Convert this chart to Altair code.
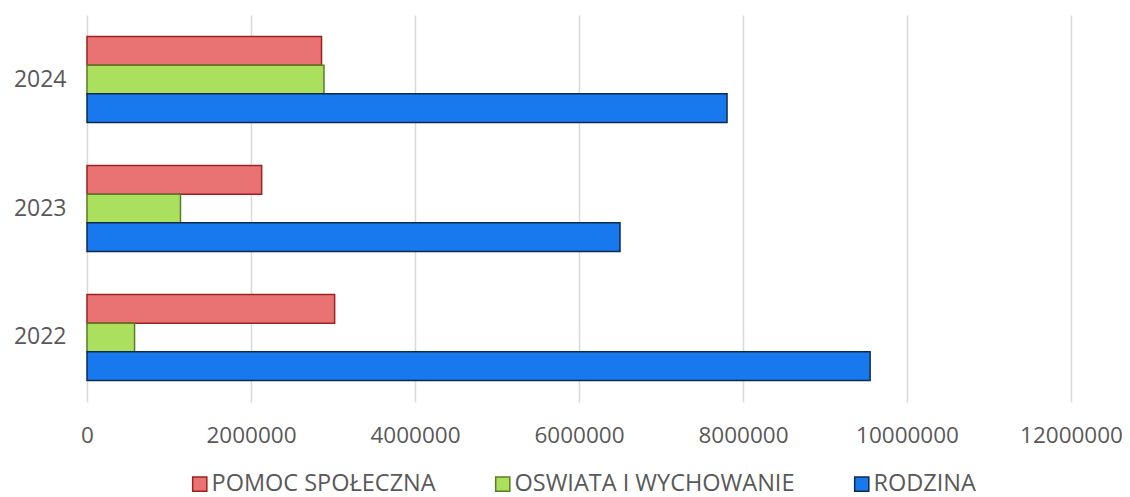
import altair as alt
import pandas as pd

years = ["2024", "2023", "2022"]
series = ["POMOC SPOŁECZNA", "OSWIATA I WYCHOWANIE", "RODZINA"]
pomoc = [2860000, 2130000, 3020000]
oswiata = [2890000, 1140000, 580000]
rodzina = [7805000, 6500000, 9550000]
x_ticks = [0, 2000000, 4000000, 6000000, 8000000, 10000000, 12000000]

fills = ["#E87372", "#ABE05E", "#1879EE"]
strokes = ["#9E2020", "#5A7D24", "#0E2A4D"]

rows = []
for i, y in enumerate(years):
    for s, vals in zip(series, [pomoc, oswiata, rodzina]):
        rows.append({"year": y, "series": s, "value": vals[i]})
df = pd.DataFrame(rows)

FONT = "Open Sans"
TXT = "#595959"

leg = dict(title=None, orient="none", direction="horizontal",
           legendX=101, legendY=457, symbolType="square",
           symbolSize=200, symbolStrokeWidth=1.5, labelLimit=0,
           labelFontSize=23.5, labelColor=TXT, labelFont=FONT,
           columnPadding=55, labelOffset=0)

chart = alt.Chart(df).mark_bar(strokeWidth=1.5).encode(
    y=alt.Y("year:N", sort=years, title=None,
            scale=alt.Scale(paddingInner=0.333, paddingOuter=0.1667),
            axis=alt.Axis(ticks=False, domain=False, labelPadding=21,
                          labelFontSize=23, labelColor=TXT, labelFont=FONT)),
    yOffset=alt.YOffset("series:N", sort=series,
                        scale=alt.Scale(paddingInner=0, paddingOuter=0)),
    x=alt.X("value:Q", title=None,
            scale=alt.Scale(domain=[0, 12000000], nice=False),
            axis=alt.Axis(values=x_ticks, format="d", ticks=False, domain=False,
                          grid=True, gridColor="#D9D9D9", gridWidth=1.5,
                          labelPadding=22, labelFontSize=22.5, labelColor=TXT,
                          labelFont=FONT, labelFlush=False)),
    fill=alt.Fill("series:N", sort=series,
                  scale=alt.Scale(domain=series, range=fills),
                  legend=alt.Legend(**leg)),
    stroke=alt.Stroke("series:N", sort=series,
                      scale=alt.Scale(domain=series, range=strokes),
                      legend=alt.Legend(**leg)),
).properties(
    width=984, height=387,
    autosize=alt.AutoSizeParams(type="none"),
    padding={"left": 79, "top": 7, "right": 51, "bottom": 95},
).configure(background="white").configure_view(strokeWidth=0)

chart.save("out.html", embed_options={"renderer": "svg", "actions": False})
